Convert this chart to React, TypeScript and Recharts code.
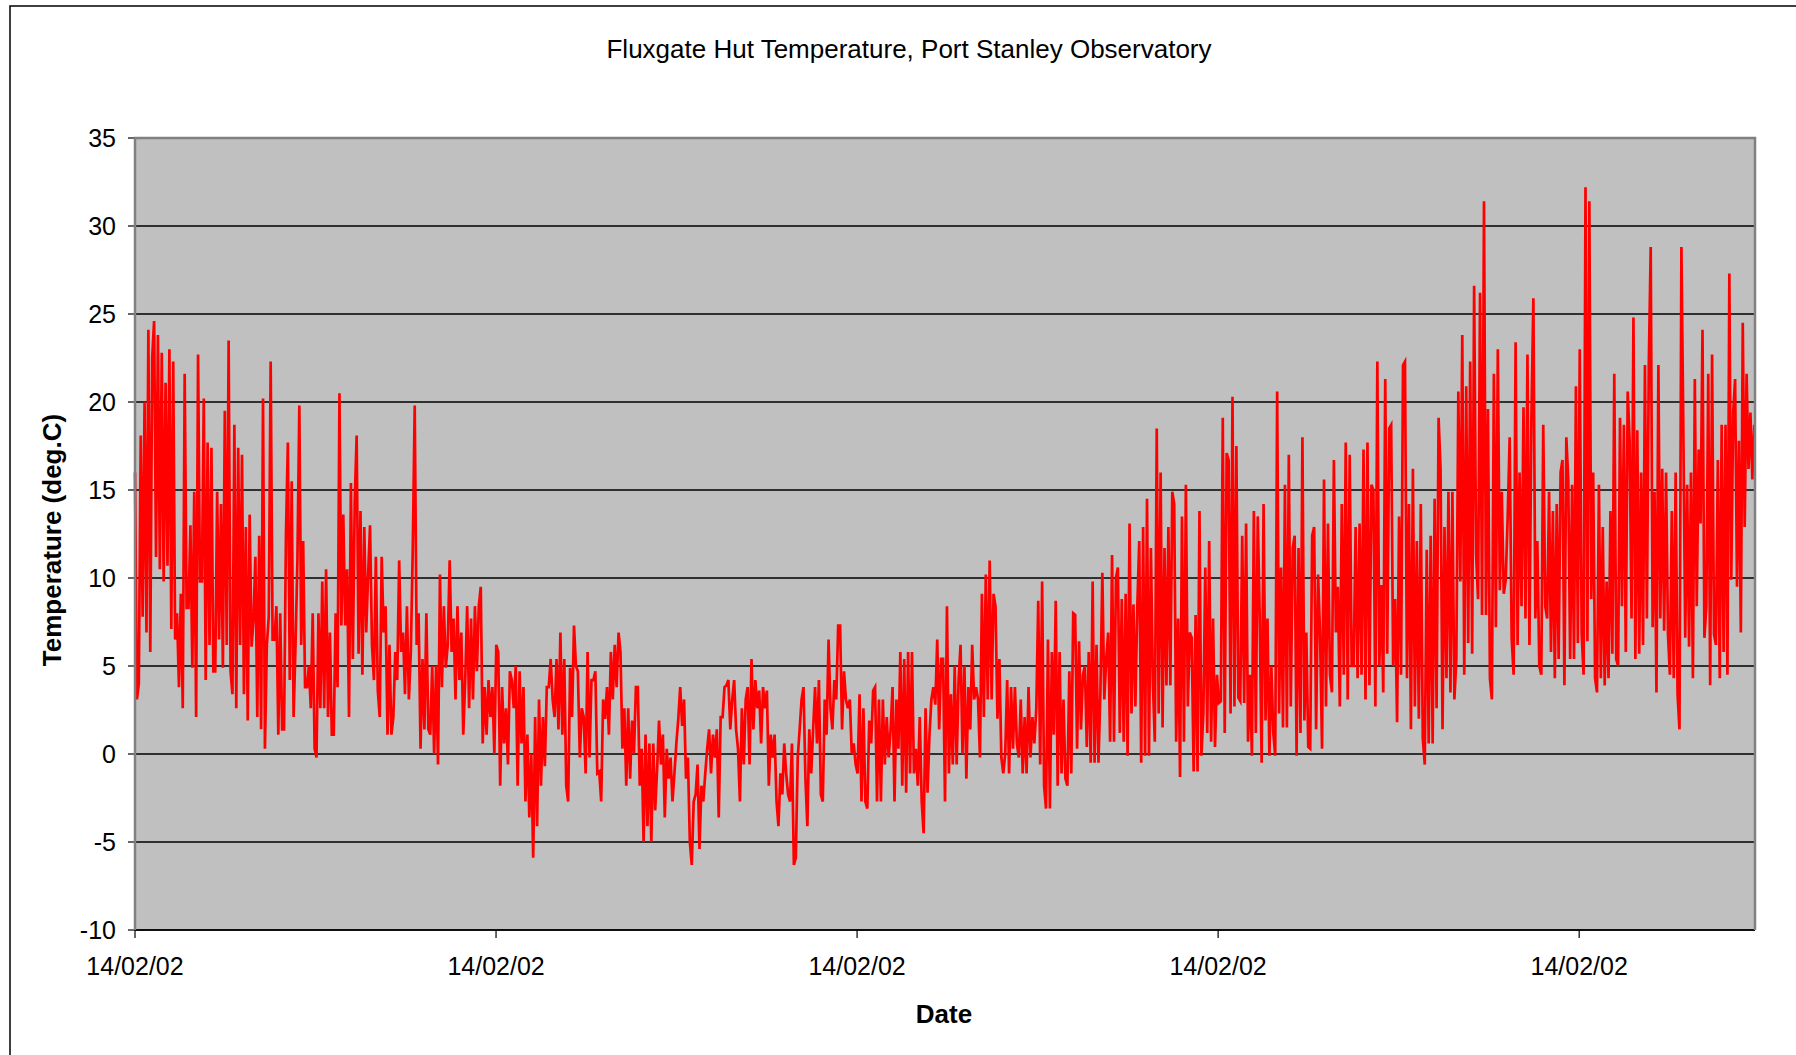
import React from 'react';
import { LineChart, Line, XAxis, YAxis, CartesianGrid } from 'recharts';

// Temperature readings (deg.C), left to right, in seven stretches
const stretch1 = [16.0, 3.1, 4, 18.1, 7.8, 20, 6.9, 24.1, 5.8, 22.5, 24.6, 11.2, 23.8, 10.5, 22.8, 9.8, 21.1, 10.7, 23.0, 7.1, 22.3, 6.5, 8.0, 3.8, 9.1, 2.6, 21.6, 8.3, 8.3, 13.0, 4.9, 14.9, 2.1, 22.7, 9.8, 9.8, 20.2, 4.2, 17.7, 6.2, 17.4, 4.7, 4.7, 14.9, 6.5, 14.2, 4.9, 19.5, 6.2, 23.5, 4.7, 3.4, 18.7, 2.6, 17.4, 6.2, 17.0, 3.4, 12.9, 1.9, 13.6, 6.1, 7.6, 11.2, 2.1, 12.4, 1.4, 20.2, 0.3, 6.2, 7.8, 22.3, 6.5, 6.5, 8.4, 1.1, 8.0, 1.4, 1.4, 12.5, 17.7, 4.2, 15.5, 2.1, 6.2, 11.0, 19.8, 6.2, 12.1, 3.8, 3.8, 5.0, 2.6, 8.0, 0.3, -0.2, 8.0, 2.6, 9.8, 2.6, 10.5, 2.1, 6.9, 1.1, 1.1, 8.0, 3.8, 20.5, 7.3, 13.6, 7.3, 10.5, 2.1, 15.4, 5.4, 14.4, 18.1, 5.7, 13.8, 4.5, 12.9, 6.9, 10.2];
const stretch2 = [13.0, 6.2, 4.2, 11.2, 3.6, 2.1, 11.2, 6.9, 8.4, 1.1, 6.2, 1.1, 2.1, 5.8, 4.2, 11.0, 5.8, 6.9, 3.4, 8.4, 3.1, 5.8, 11.7, 19.8, 6.2, 8.0, 0.3, 5.4, 1.4, 8.0, 1.4, 1.1, 5.0, 0.0, 5.0, -0.6, 10.2, 3.8, 8.4, 4.9, 6.2, 11.0, 5.8, 7.7, 3.1, 8.4, 4.2, 6.9, 1.1, 4.2, 8.4, 2.6, 7.7, 3.1, 8.4, 4.7, 8.4, 9.5, 0.6, 3.8, 1.1, 4.2, 2.1, 3.8, 0.0, 6.2, 5.8, -1.8, 3.8, 0.6, 2.6, -0.6, 4.7, 4.2, 2.6, 5.0, -1.8, 4.7, 0.6, 3.8, -2.7, 1.1, -3.6, 0.0, -5.9, 2.1, -4.1, 3.1, -1.8, 2.1, -0.7, 3.8, 3.8, 5.4, 3.1, 2.1, 5.4, 1.4, 6.9, 1.1, 5.4, -1.8, -2.7, 4.9, 2.1, 7.3, 5.0, 4.7, -0.2, 2.6, 2.1, -1.1, 5.8, -0.2, 4.2, 4.2, 4.7, -1.1, -1.0, -2.7, 3.1];
const stretch3 = [2.0, 3.8, 1.1, 5.8, 3.1, 6.2, 3.8, 6.9, 5.8, 0.3, 2.6, -1.8, 2.6, -1.4, 1.9, 0.0, 3.8, 3.8, -1.8, 0.3, -5.0, 1.1, -4.1, 0.6, -5.0, 0.6, -3.2, -0.9, 1.9, -0.6, 1.1, -3.6, 0.3, -1.4, -0.2, -2.7, -1.1, 0.6, 2.0, 3.8, 1.6, 3.1, -1.4, -0.2, -5.0, -6.3, -2.7, -2.3, -0.6, -5.4, -1.8, -2.7, -1.1, 0.3, 1.4, -1.1, 1.1, -0.2, 1.4, -3.6, 2.1, 2.1, 3.8, 3.9, 4.2, 1.4, 3.1, 4.2, 1.4, 0.3, -2.7, 2.6, -0.6, 3.1, 3.8, -0.6, 5.4, 1.4, 4.2, 2.6, 3.6, 0.6, 3.8, 2.6, 3.6, -1.8, 1.1, -0.2, 1.1, -2.7, -4.1, -1.1, -2.3, 0.6, -1.1, -2.3, -2.7, 0.6, -6.3, -5.9, -0.2, 1.4, 3.1, 3.8, -1.4, -4.1, 1.4, -1.1, 1.4, 3.8, 0.6, 4.2, -2.3, -2.7, 3.1, 1.1, 6.5, 2.6, 1.4, 4.2, 3.1, 7.3];
const stretch4 = [7.3, 1.4, 4.7, 3.1, 2.6, 3.1, 0.0, 0.6, -0.6, -1.1, 3.4, -2.7, 2.6, -2.7, -3.1, 1.9, 0.6, 3.6, 3.8, -2.7, 3.1, -2.7, 3.1, -0.6, 2.1, -0.2, 1.4, 3.8, -2.7, 3.1, 0.3, 5.8, -1.8, 5.4, -2.2, 5.8, -1.1, 5.8, -1.1, 0.3, -1.8, 2.1, -2.7, -4.5, 2.6, -2.2, 1.1, 3.1, 3.8, 2.8, 6.5, 1.4, 5.4, 5.4, -2.7, 8.4, -1.1, 3.4, -0.6, 5.0, -0.6, 4.2, 6.2, 0.0, 5.0, -1.4, 3.8, 1.4, 6.2, 3.1, 3.8, 3.1, -0.2, 9.1, 2.1, 10.2, 3.1, 11.0, 3.1, 9.1, 8.4, 2.0, 5.4, -0.2, -1.1, 0.0, 4.2, -1.1, 3.8, 0.3, 3.8, 0.6, -0.2, 3.1, -1.1, 2.1, -1.1, 3.8, -0.2, 2.1, 0.6, 2.6, 8.7, -0.6, 9.8, -1.8, -3.1, 6.5, -3.1, 5.8, 1.1, 8.7, -1.8, 5.8, -1.1, 3.1, -1.4, -1.8, 4.7, -1.1, 8.0];
const stretch5 = [7.9, 0.3, 6.4, 1.4, 4.5, 5.0, 0.4, 5.8, -0.5, 9.8, -0.5, 6.2, -0.5, 3.5, 10.3, 3.1, 5.4, 6.9, 0.7, 11.3, 0.7, 10.0, 10.6, 1.2, 8.8, 0.7, 9.1, -0.1, 13.1, 2.3, 8.5, 2.7, 8.4, 12.1, -0.5, 12.9, -0.1, 14.5, -0.1, 11.7, 4.1, 0.7, 18.5, 2.3, 16.0, 1.5, 11.7, 3.9, 12.9, 3.9, 14.9, 14.2, 0.7, 7.7, -1.3, 13.5, 0.7, 15.3, 2.7, 6.9, 6.6, -1.0, 7.9, -1.0, 13.8, -0.1, 2.3, 10.6, 1.2, 12.1, 0.7, 7.7, 0.4, 4.5, 2.9, 3.0, 19.1, 1.2, 17.1, 16.7, 2.3, 20.3, 2.7, 17.5, 3.2, 3.0, 12.4, 2.9, 13.1, 0.7, 4.5, -0.1, 13.8, 1.2, 13.5, 7.9, -0.5, 14.2, 1.9, 7.7, -0.1, 5.0, 1.2, -0.1, 20.6, 2.3, 10.6, 1.5, 15.3, 1.5, 17.0, 2.7, 11.7, 12.4, -0.1, 11.7, 1.2, 18.0, 1.9, 6.9, 0.4];
const stretch6 = [0.3, 12.4, 12.9, 1.4, 10.2, 6.8, 0.3, 15.6, 2.7, 13.1, 4.5, 3.5, 16.7, 6.9, 9.5, 2.7, 14.2, 4.5, 17.7, 3.1, 17.0, 5.0, 5.0, 12.9, 4.3, 13.1, 4.5, 17.3, 3.1, 17.7, 3.9, 15.3, 15.0, 2.7, 22.3, 5.0, 9.6, 3.5, 21.3, 5.7, 18.5, 18.7, 5.0, 8.8, 1.8, 13.5, 4.5, 22.1, 22.3, 4.3, 14.2, 1.4, 16.2, 2.7, 12.1, 2.0, 14.2, 0.9, -0.6, 11.6, 0.6, 12.4, 0.6, 14.5, 2.6, 19.1, 16.2, 1.4, 12.9, 4.3, 14.9, 3.5, 14.9, 3.1, 5.4, 20.6, 9.8, 23.8, 4.5, 20.9, 6.3, 22.3, 5.7, 26.6, 11.3, 8.8, 26.2, 7.9, 31.4, 7.9, 19.6, 4.3, 3.1, 21.6, 7.2, 23.0, 9.3, 14.9, 9.1, 9.9, 13.5, 18.0, 6.6, 4.5, 23.4, 6.2, 16.0, 8.4, 19.7, 7.7, 22.7, 6.2, 19.1, 25.9, 7.7, 12.1, 5.0, 4.5, 18.7];
const stretch7 = [8.4, 7.7, 14.9, 5.8, 13.8, 4.3, 14.2, 5.4, 16.0, 16.7, 3.9, 18.0, 15.6, 5.4, 15.3, 5.4, 20.9, 6.3, 23.0, 6.8, 4.5, 32.2, 6.4, 31.4, 8.8, 16.0, 4.3, 3.5, 15.3, 4.3, 12.9, 3.9, 9.8, 4.3, 13.8, 5.7, 21.6, 5.4, 5.0, 19.1, 8.4, 18.7, 5.8, 20.6, 17.8, 7.7, 24.8, 5.4, 18.4, 5.7, 16.0, 6.2, 22.1, 7.7, 22.1, 28.8, 7.2, 14.9, 3.5, 22.1, 7.7, 16.2, 7.0, 16.0, 6.8, 4.5, 13.8, 4.3, 16.0, 3.4, 1.4, 28.8, 18.5, 6.6, 15.3, 6.1, 16.0, 4.3, 21.3, 8.4, 17.3, 13.1, 24.1, 6.6, 8.4, 21.6, 3.9, 22.7, 6.8, 6.2, 16.7, 4.3, 18.7, 5.8, 18.7, 4.5, 27.3, 9.9, 19.4, 21.3, 9.5, 17.8, 6.9, 24.5, 12.9, 21.6, 16.2, 19.4, 15.6, 18.7];

// Time (axis units between date ticks) at which each stretch begins; last entry is the end
const stretchTimes = [0, 0.651, 1.302, 1.953, 2.604, 3.255, 3.906, 4.485];

const xTicks = [0, 1, 2, 3, 4];
const xTickLabels = ['14/02/02', '14/02/02', '14/02/02', '14/02/02', '14/02/02'];
const yTicks = [-10, -5, 0, 5, 10, 15, 20, 25, 30, 35];

const stretches = [stretch1, stretch2, stretch3, stretch4, stretch5, stretch6, stretch7];
const data: { t: number; temp: number }[] = [];
stretches.forEach((s, i) => {
  const a = stretchTimes[i];
  const b = stretchTimes[i + 1];
  const n = i === stretches.length - 1 ? s.length - 1 : s.length;
  s.forEach((v, j) => data.push({ t: a + ((b - a) * j) / n, temp: v }));
});

const FONT = '"Liberation Sans", Arial, Helvetica, sans-serif';

export default function App() {
  return (
    <div style={{ position: 'absolute', left: 0, top: 0, width: 1796, height: 1055, background: '#fff', overflow: 'hidden' }}>
      <LineChart width={1796} height={1055} data={data} margin={{ top: 138, right: 41, left: 0, bottom: 0 }}>
        <CartesianGrid vertical={false} stroke="#000" strokeWidth={1.3} fill="#C0C0C0" fillOpacity={1} />
        <XAxis
          type="number"
          dataKey="t"
          domain={[0, 4.487]}
          ticks={xTicks}
          interval={0}
          height={125}
          tickFormatter={(v: number) => xTickLabels[xTicks.indexOf(v)] ?? ''}
          tick={{ fill: '#000', fontSize: 25, fontFamily: FONT }}
          tickSize={8}
          tickMargin={19}
          axisLine={{ stroke: '#000', strokeWidth: 1.5 }}
          tickLine={{ stroke: '#000', strokeWidth: 1.2 }}
        />
        <YAxis
          type="number"
          domain={[-10, 35]}
          ticks={yTicks}
          interval={0}
          width={135}
          tick={{ fill: '#000', fontSize: 25, fontFamily: FONT }}
          tickSize={7}
          tickMargin={12}
          axisLine={false}
          tickLine={{ stroke: '#000', strokeWidth: 1.2 }}
        />
        <Line type="linear" dataKey="temp" stroke="#FF0000" strokeWidth={2.7} dot={false} isAnimationActive={false} />
      </LineChart>
      <svg width={1796} height={1055} style={{ position: 'absolute', left: 0, top: 0, pointerEvents: 'none' }}>
        <rect x={10} y={6} width={2000} height={2000} fill="none" stroke="#000" strokeWidth={1.5} />
        <path d="M135,930 L135,138 L1755,138 L1755,930" fill="none" stroke="#808080" strokeWidth={2.5} />
        <text x={909} y={49} textAnchor="middle" dominantBaseline="central" fontFamily={FONT} fontSize={26} fill="#000">
          Fluxgate Hut Temperature, Port Stanley Observatory
        </text>
        <text x={944} y={1014} textAnchor="middle" dominantBaseline="central" fontFamily={FONT} fontSize={26} fontWeight="bold" fill="#000">
          Date
        </text>
        <text
          x={52}
          y={540}
          textAnchor="middle"
          dominantBaseline="central"
          fontFamily={FONT}
          fontSize={26}
          fontWeight="bold"
          fill="#000"
          transform="rotate(-90 52 540)"
        >
          Temperature (deg.C)
        </text>
      </svg>
    </div>
  );
}
